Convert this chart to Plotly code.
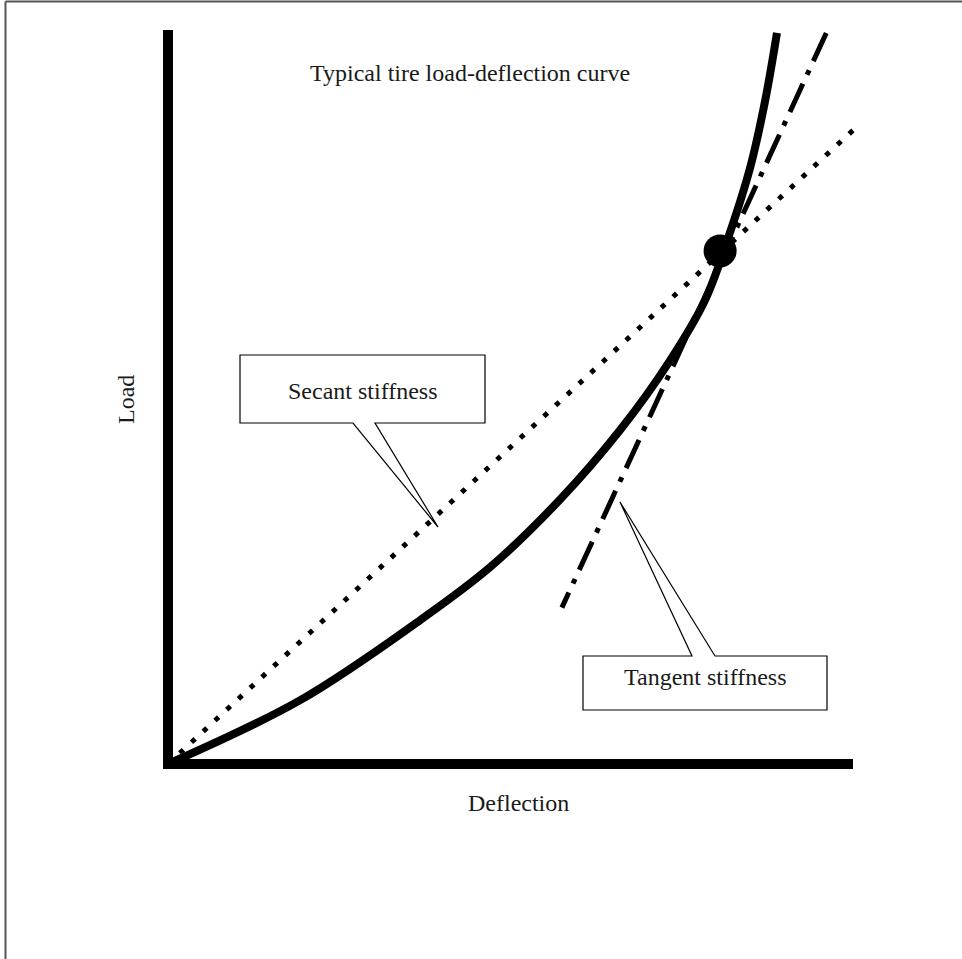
import plotly.graph_objects as go

# ---------------- data (chart units: deflection 0-100, load 0-100) ----------------
curve_deflection = [0, 19.3, 36.8, 47.0, 57.2, 66.0, 73.3, 78.4, 82.0, 85.0, 87.2, 88.9]
curve_load = [0, 8.7, 19.6, 26.8, 36.0, 45.5, 55.0, 63.2, 72.3, 81.3, 90.5, 99.6]

secant_deflection = [0, 100.3]
secant_load = [0, 86.6]

tangent_deflection = [96.1, 57.5]
tangent_load = [99.6, 21.3]

point_deflection = [80.6]
point_load = [69.9]

axis_deflection = [0, 0, 100]
axis_load = [100, 0, 0]

title_text = "Typical tire load-deflection curve"
x_label = "Deflection"
y_label = "Load"
secant_label = "Secant stiffness"
tangent_label = "Tangent stiffness"

# ---------------- layout helpers ----------------
W, H = 962, 959
X0_PX, X_SCALE = 168, 6.85   # pixel of deflection 0, px per unit
Y0_PX, Y_SCALE = 764, 7.34   # pixel of load 0, px per unit


def px(x):
    return x / W


def py(y):
    return 1 - y / H


FONT = "Liberation Serif, Times New Roman, serif"
FS = 24

fig = go.Figure()

# axes (thick black lines)
fig.add_trace(go.Scatter(x=axis_deflection, y=axis_load, mode="lines",
                         line=dict(color="black", width=10), hoverinfo="skip"))
# secant (dotted)
fig.add_trace(go.Scatter(x=secant_deflection, y=secant_load, mode="lines",
                         line=dict(color="black", width=5, dash="5px,11px"), hoverinfo="skip"))
# tangent (dash-dot)
fig.add_trace(go.Scatter(x=tangent_deflection, y=tangent_load, mode="lines",
                         line=dict(color="black", width=5, dash="31px,10px,5px,10px"), hoverinfo="skip"))
# load-deflection curve
fig.add_trace(go.Scatter(x=curve_deflection, y=curve_load, mode="lines",
                         line=dict(color="black", width=8, shape="spline", smoothing=1.0),
                         hoverinfo="skip"))
# operating point
fig.add_trace(go.Scatter(x=point_deflection, y=point_load, mode="markers",
                         marker=dict(color="black", size=33), hoverinfo="skip"))


# callout bubbles (box + pointer), pixel geometry converted to paper coords
def bubble(left, top, right, bottom, base1, base2, tip, pointer_down=True):
    if pointer_down:
        pts = [(left, top), (right, top), (right, bottom), (base2, bottom), tip,
               (base1, bottom), (left, bottom)]
    else:
        pts = [(left, top), (base1, top), tip, (base2, top), (right, top),
               (right, bottom), (left, bottom)]
    path = "M " + " L ".join(f"{px(a):.5f},{py(b):.5f}" for a, b in pts) + " Z"
    return dict(type="path", xref="paper", yref="paper", path=path,
                fillcolor="white", line=dict(color="black", width=1.2), layer="above")


shapes = [
    bubble(240, 355, 485, 423, 353, 375, (438, 527), pointer_down=True),
    bubble(583, 656, 827, 710, 692, 715, (620, 502), pointer_down=False),
    # outer frame (left and top)
    dict(type="line", xref="paper", yref="paper", x0=px(5.5), x1=px(5.5), y0=0, y1=py(1.5),
         line=dict(color="#555555", width=2)),
    dict(type="line", xref="paper", yref="paper", x0=px(5.5), x1=1, y0=py(1.5), y1=py(1.5),
         line=dict(color="#555555", width=2)),
]


def label(text, x, y, angle=0):
    return dict(text=text, x=px(x), y=py(y), xref="paper", yref="paper",
                showarrow=False, textangle=angle,
                font=dict(family=FONT, size=FS, color="#1a1a1a"),
                xanchor="center", yanchor="middle")


annotations = [
    label(title_text, 470, 73),
    label(x_label, 518, 803),
    label(y_label, 126, 400, -90),
    label(secant_label, 363, 391),
    label(tangent_label, 705, 677),
]

x_range = [(0 - X0_PX) / X_SCALE, (W - X0_PX) / X_SCALE]
y_range = [(Y0_PX - H) / Y_SCALE, (Y0_PX - 0) / Y_SCALE]

fig.update_layout(
    width=W, height=H,
    margin=dict(l=0, r=0, t=0, b=0),
    paper_bgcolor="white", plot_bgcolor="white",
    showlegend=False,
    xaxis=dict(range=x_range, visible=False, fixedrange=True),
    yaxis=dict(range=y_range, visible=False, fixedrange=True),
    shapes=shapes,
    annotations=annotations,
)

fig.write_html("out.html",
               config={"displayModeBar": False, "staticPlot": True},
               post_script="document.body.style.margin='0px';document.body.style.overflow='hidden';")
